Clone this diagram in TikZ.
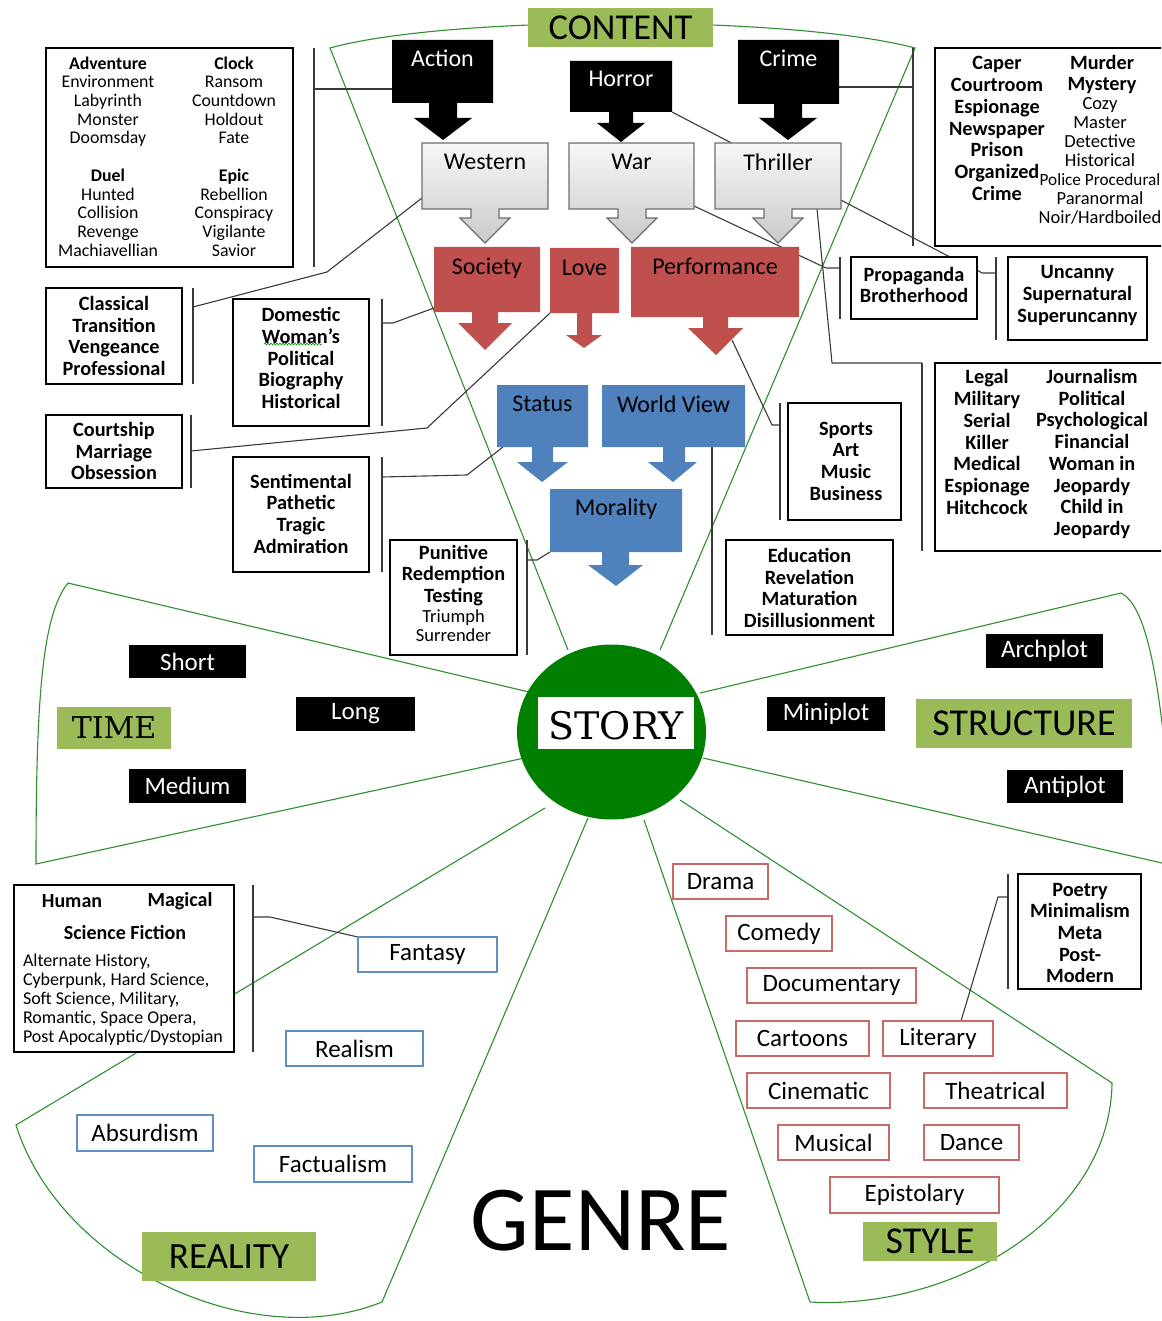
\documentclass[tikz,border=0pt]{standalone}
\usepackage{fontspec}
\setmainfont{Carlito}
\newfontfamily\serifface{DejaVu Serif}
\usetikzlibrary{shapes.geometric,decorations.pathmorphing}
\definecolor{labgreen}{HTML}{9BBB59}
\definecolor{accred}{HTML}{C0504D}
\definecolor{accblue}{HTML}{4F81BD}
\definecolor{storygreen}{HTML}{007F00}
\definecolor{sectorgreen}{HTML}{2F8F2F}
\definecolor{connc}{HTML}{3A3A3A}
\definecolor{grayedge}{HTML}{6E6E6E}
\newcommand\fsz[2]{\fontsize{#1}{#2}\selectfont}
\pgfdeclarelayer{bg}
\pgfsetlayers{bg,main}
\begin{document}
\begin{tikzpicture}[x=1pt,y=-1pt,
 every node/.style={inner sep=0pt,outer sep=0pt},
 boxref/.style={rectangle},
 sector/.style={draw=sectorgreen,line width=1.1pt},
 conn/.style={draw=connc,line width=1.1pt},
 brk/.style={draw=connc,line width=1.3pt},
 infobox/.style={rectangle,draw=black,line width=1.2pt,fill=white},
 infotext/.style={align=center,font=\bfseries\fsz{20.3}{21.7}},
 plaintext/.style={align=center,font=\fsz{18.5}{19.1}},
 headtext/.style={font=\fsz{24}{28}},
 greenlab/.style={rectangle,fill=labgreen},
 blacklab/.style={rectangle,fill=black,text=white,font=\fsz{25}{28}},
 bluelab/.style={rectangle,draw=accblue!90,line width=1.2pt,fill=white,font=\fsz{25}{28}},
 redlab/.style={rectangle,draw=accred!85,line width=1.2pt,fill=white,font=\fsz{25}{28}},
 blackshape/.style={fill=black},
 grayshape/.style={top color=gray!6,bottom color=gray!42,draw=grayedge,line width=1.2pt},
 redshape/.style={fill=accred},
 blueshape/.style={fill=accblue}]
\useasboundingbox (0,0) rectangle (1161,1321);
\clip (0,0) rectangle (1161,1321);

% ---------- block arrows ----------
\path[blackshape] (392,40) -- (493,40) -- (493,103) -- (457,103) -- (457,118) -- (472,118) -- (443,140) -- (414,118) -- (429,118) -- (429,103) -- (392,103) -- cycle;
\node[boxref,minimum width=101pt,minimum height=63pt] (action) at (442.5,71.5) {};
\node[headtext,text=white] (actionT) at (442.5,58) {Action};

\path[blackshape] (570,61) -- (672,61) -- (672,112) -- (633,112) -- (633,123) -- (645,123) -- (621,142) -- (597,123) -- (609,123) -- (609,112) -- (570,112) -- cycle;
\node[boxref,minimum width=102pt,minimum height=51pt] (horror) at (621,86.5) {};
\node[headtext,text=white] (horrorT) at (621,79) {Horror};

\path[blackshape] (738,40) -- (839,40) -- (839,104) -- (802,104) -- (802,118) -- (817,118) -- (788,140) -- (759,118) -- (774,118) -- (774,104) -- (738,104) -- cycle;
\node[boxref,minimum width=101pt,minimum height=64pt] (crime) at (788.5,72) {};
\node[headtext,text=white] (crimeT) at (788.5,58) {Crime};

\path[grayshape] (422,143) -- (548,143) -- (548,209) -- (499,209) -- (499,218) -- (510,218) -- (485,243) -- (460,218) -- (471,218) -- (471,209) -- (422,209) -- cycle;
\node[boxref,minimum width=126pt,minimum height=66pt] (western) at (485,176) {};
\node[headtext] (westernT) at (485,162) {Western};

\path[grayshape] (569,143) -- (694,143) -- (694,209) -- (646,209) -- (646,218) -- (657,218) -- (632,243) -- (607,218) -- (618,218) -- (618,209) -- (569,209) -- cycle;
\node[boxref,minimum width=125pt,minimum height=66pt] (war) at (631.5,176) {};
\node[headtext] (warT) at (631.5,162) {War};

\path[grayshape] (715,143) -- (841,143) -- (841,209) -- (792,209) -- (792,218) -- (803,218) -- (778,243) -- (753,218) -- (764,218) -- (764,209) -- (715,209) -- cycle;
\node[boxref,minimum width=126pt,minimum height=66pt] (thriller) at (778,176) {};
\node[headtext] (thrillerT) at (778,162) {Thriller};

\path[redshape] (434,247) -- (540,247) -- (540,312) -- (498,312) -- (498,323) -- (512,323) -- (485,350) -- (458,323) -- (472,323) -- (472,312) -- (434,312) -- cycle;
\node[boxref,minimum width=106pt,minimum height=65pt] (society) at (487,279.5) {};
\node[headtext] (societyT) at (487,268) {Society};

\path[redshape] (550,248) -- (619,248) -- (619,313) -- (592,313) -- (592,335) -- (602,335) -- (584,348) -- (566,335) -- (577,335) -- (577,313) -- (550,313) -- cycle;
\node[boxref,minimum width=69pt,minimum height=65pt] (love) at (584.5,280.5) {};
\node[headtext] (loveT) at (584.5,268) {Love};

\path[redshape] (631,247) -- (799,247) -- (799,317) -- (728,317) -- (728,328) -- (743,328) -- (716,355) -- (688,328) -- (703,328) -- (703,317) -- (631,317) -- cycle;
\node[boxref,minimum width=168pt,minimum height=70pt] (performance) at (715,282) {};
\node[headtext] (performanceT) at (715,266) {Performance};

\path[blueshape] (497,385) -- (588,385) -- (588,447) -- (553,447) -- (553,462) -- (568,462) -- (542,482) -- (517,462) -- (532,462) -- (532,447) -- (497,447) -- cycle;
\node[boxref,minimum width=91pt,minimum height=62pt] (status) at (542.5,416) {};
\node[headtext] (statusT) at (542.5,404) {Status};

\path[blueshape] (602,385) -- (745,385) -- (745,447) -- (685,447) -- (685,462) -- (697,462) -- (673,482) -- (648,462) -- (663,462) -- (663,447) -- (602,447) -- cycle;
\node[boxref,minimum width=143pt,minimum height=62pt] (worldview) at (673.5,416) {};
\node[headtext] (worldviewT) at (673.5,404) {World View};

\path[blueshape] (550,489) -- (682,489) -- (682,552) -- (629,552) -- (629,565) -- (643,565) -- (616,586) -- (588,565) -- (602,565) -- (602,552) -- (550,552) -- cycle;
\node[boxref,minimum width=132pt,minimum height=63pt] (morality) at (616,520.5) {};
\node[headtext] (moralityT) at (616,509) {Morality};

\node[greenlab,minimum width=185pt,minimum height=39pt,font=\fsz{36.5}{40}] (content) at (620.5,27.5) {CONTENT};

% ---------- info boxes ----------
\node[infobox,minimum width=247pt,minimum height=219pt] (adv) at (169.5,157.5) {};
\node[align=center,font=\fsz{17.8}{18.7}] (advL) at (108,156.5) {\textbf{Adventure}\\Environment\\Labyrinth\\Monster\\Doomsday\\[18.7pt]\textbf{Duel}\\Hunted\\Collision\\Revenge\\Machiavellian};
\node[align=center,font=\fsz{17.8}{18.7}] (advR) at (234,156.5) {\textbf{Clock}\\Ransom\\Countdown\\Holdout\\Fate\\[18.7pt]\textbf{Epic}\\Rebellion\\Conspiracy\\Vigilante\\Savior};
\draw[brk] ([xshift=21pt]adv.north east) -- ([xshift=21pt]adv.south east);

\node[infobox,minimum width=240pt,minimum height=198pt] (caper) at (1055,147) {};
\node[infotext] (caperL) at (997,128.5) {Caper\\Courtroom\\Espionage\\Newspaper\\Prison\\Organized\\Crime};
\node[infotext] (caperR) at (1102,74.5) {Murder\\Mystery};
\node[plaintext] (caperR2) at (1100,161) {Cozy\\Master\\Detective\\Historical\\{\fsz{17.2}{19.1}Police Procedural}\\Paranormal\\Noir/Hardboiled};
\draw[brk] ([xshift=-22pt]caper.north west) -- ([xshift=-22pt]caper.south west);

\node[infobox,minimum width=126pt,minimum height=62pt] (prop) at (914,288) {};
\node[infotext] (propT) at (914,285) {Propaganda\\Brotherhood};
\draw[brk] ([xshift=-11pt]prop.north west) -- ([xshift=-11pt]prop.south west);

\node[infobox,minimum width=139pt,minimum height=83pt] (unc) at (1077.5,298.5) {};
\node[infotext] (uncT) at (1077.5,295.5) {Uncanny\\Supernatural\\Superuncanny};
\draw[brk] ([xshift=-12pt]unc.north west) -- ([xshift=-12pt]unc.south west);

\node[infobox,minimum width=240pt,minimum height=188pt] (legal) at (1055,457) {};
\node[infotext] (legalL) at (987,442) {Legal\\Military\\Serial\\Killer\\Medical\\Espionage\\Hitchcock};
\node[infotext] (legalR) at (1092,454) {Journalism\\Political\\Psychological\\Financial\\Woman in\\Jeopardy\\Child in\\Jeopardy};
\draw[brk] ([xshift=-13pt]legal.north west) -- ([xshift=-13pt]legal.south west);

\node[infobox,minimum width=113pt,minimum height=117pt] (sports) at (844.5,461.5) {};
\node[infotext] (sportsT) at (846,461) {Sports\\Art\\Music\\Business};
\draw[brk] ([xshift=-8pt]sports.north west) -- ([xshift=-8pt]sports.south west);

\node[infobox,minimum width=167pt,minimum height=95pt] (edu) at (809.5,587.5) {};
\node[infotext] (eduT) at (809.5,588) {Education\\Revelation\\Maturation\\Disillusionment};

\node[infobox,minimum width=136pt,minimum height=96pt] (classical) at (114,336) {};
\node[infotext] (classicalT) at (114,336) {Classical\\Transition\\Vengeance\\Professional};
\draw[brk] ([xshift=11pt]classical.north east) -- ([xshift=11pt]classical.south east);

\node[infobox,minimum width=136pt,minimum height=127pt] (domestic) at (301,362.5) {};
\node[infotext] (domesticT) at (301,358) {Domestic\\Woman's\\Political\\Biography\\Historical};
\draw[green!60!black,line width=0.6pt,decorate,decoration={snake,amplitude=1pt,segment length=3pt}] (264,344) -- (322,344);
\draw[brk] ([xshift=13pt]domestic.north east) -- ([xshift=13pt]domestic.south east);

\node[infobox,minimum width=136pt,minimum height=73pt] (courtship) at (114,451.5) {};
\node[infotext] (courtshipT) at (114,451) {Courtship\\Marriage\\Obsession};
\draw[brk] ([xshift=9pt]courtship.north east) -- ([xshift=9pt]courtship.south east);

\node[infobox,minimum width=136pt,minimum height=115pt] (sentimental) at (301,514.5) {};
\node[infotext] (sentimentalT) at (301,513.5) {Sentimental\\Pathetic\\Tragic\\Admiration};
\draw[brk] ([xshift=13pt]sentimental.north east) -- ([xshift=13pt]sentimental.south east);

\node[infobox,minimum width=127pt,minimum height=115pt] (punitive) at (453.5,597.5) {};
\node[infotext] (punitiveA) at (453.5,575.5) {Punitive\\Redemption\\Testing};
\node[plaintext] (punitiveB) at (453.5,625.5) {Triumph\\Surrender};
\draw[brk] ([xshift=10pt]punitive.north east) -- ([xshift=10pt]punitive.south east);

\node[infobox,minimum width=220pt,minimum height=167pt] (scifi) at (124,968.5) {};
\node[font=\bfseries\fsz{20}{22}] (sfHuman) at (72,901) {Human};
\node[font=\bfseries\fsz{20}{22}] (sfMagical) at (180,901) {Magical};
\node[font=\bfseries\fsz{20}{22}] (sfTitle) at (125,933) {Science Fiction};
\node[align=left,anchor=west,font=\fsz{18}{19}] (sfList) at (23,1000) {Alternate History,\\Cyberpunk, Hard Science,\\Soft Science, Military,\\Romantic, Space Opera,\\Post Apocalyptic/Dystopian};
\draw[brk] ([xshift=19pt]scifi.north east) -- ([xshift=19pt]scifi.south east);

\node[infobox,minimum width=123pt,minimum height=115pt] (poetry) at (1079.5,931.5) {};
\node[infotext] (poetryT) at (1080,933) {Poetry\\Minimalism\\Meta\\Post-\\Modern};
\draw[brk] ([xshift=-10pt]poetry.north west) -- ([xshift=-10pt]poetry.south west);

% ---------- hub ----------
\node[ellipse,fill=storygreen,minimum width=189pt,minimum height=175pt] (hub) at (611.5,732) {};
\node[rectangle,fill=white,minimum width=156pt,minimum height=52pt] (storylab) at (616,723) {};
\node[font=\serifface\fsz{38}{44}] (storyT) at (616,726) {STORY};

% ---------- labels ----------
\node[blacklab,minimum width=117pt,minimum height=33pt] (short) at (187.5,661.5) {Short};
\node[blacklab,minimum width=119pt,minimum height=34pt] (long) at (355.5,714) {Long};
\node[blacklab,minimum width=117pt,minimum height=34pt] (medium) at (187.5,786) {Medium};
\node[blacklab,minimum width=118pt,minimum height=34pt] (miniplot) at (826,714) {Miniplot};
\node[blacklab,minimum width=117pt,minimum height=34pt] (archplot) at (1044.5,651) {Archplot};
\node[blacklab,minimum width=116pt,minimum height=33pt] (antiplot) at (1065,786.5) {Antiplot};

\node[greenlab,minimum width=114pt,minimum height=42pt,font=\serifface\fsz{30}{36}] (time) at (114,728) {TIME};
\node[greenlab,minimum width=216pt,minimum height=49pt,font=\fsz{38}{42}] (structure) at (1024,723.5) {STRUCTURE};
\node[greenlab,minimum width=174pt,minimum height=49pt,font=\fsz{37}{40}] (reality) at (229,1256.5) {REALITY};
\node[greenlab,minimum width=134pt,minimum height=39pt,font=\fsz{38}{40}] (style) at (930,1241.5) {STYLE};

\node[bluelab,minimum width=139pt,minimum height=35pt] (fantasy) at (427.5,954.5) {Fantasy};
\node[bluelab,minimum width=137pt,minimum height=35pt] (realism) at (354.5,1048.5) {Realism};
\node[bluelab,minimum width=136pt,minimum height=36pt] (absurdism) at (145,1133) {Absurdism};
\node[bluelab,minimum width=158pt,minimum height=36pt] (factualism) at (333,1164) {Factualism};

\node[redlab,minimum width=95pt,minimum height=35pt] (drama) at (720.5,881.5) {Drama};
\node[redlab,minimum width=106pt,minimum height=35pt] (comedy) at (779,933.5) {Comedy};
\node[redlab,minimum width=169pt,minimum height=35pt] (documentary) at (831.5,985.5) {Documentary};
\node[redlab,minimum width=133pt,minimum height=35pt] (cartoons) at (802.5,1038.5) {Cartoons};
\node[redlab,minimum width=110pt,minimum height=35pt] (literary) at (938,1038.5) {Literary};
\node[redlab,minimum width=143pt,minimum height=35pt] (cinematic) at (818.5,1090.5) {Cinematic};
\node[redlab,minimum width=143pt,minimum height=35pt] (theatrical) at (995.5,1090.5) {Theatrical};
\node[redlab,minimum width=111pt,minimum height=35pt] (musical) at (833.5,1142.5) {Musical};
\node[redlab,minimum width=95pt,minimum height=35pt] (dance) at (971.5,1142.5) {Dance};
\node[redlab,minimum width=169pt,minimum height=36pt] (epistolary) at (914.5,1195) {Epistolary};

\node[font=\fsz{93}{100}] (genre) at (601,1221) {GENRE};

% ---------- background: sectors and connectors ----------
\begin{pgfonlayer}{bg}
\fill[white] (0,0) rectangle (1161,1321);
\draw[sector] (568,650) -- (330,48) .. controls (450,15) and (790,15) .. (915,48) -- (660,650);
\draw[sector] (529,692) -- (68,583) .. controls (42,615) and (36,700) .. (36,864) -- (529,757);
\draw[sector] (700,693) -- (1121,593) .. controls (1145,605) and (1158,670) .. (1168,780);
\draw[sector] (703,758) -- (1175,866);
\draw[sector] (545,808) -- (16,1125) .. controls (60,1265) and (250,1355) .. (382,1302) -- (588,818);
\draw[sector] (644,820) -- (810,1302) .. controls (950,1310) and (1110,1220) .. (1112,1083) -- (680,800);

\coordinate (brAdv) at (314,89);
\coordinate (brCaper) at (913,87);
\coordinate (brProp) at (840,268);
\coordinate (brLegal) at (922,363);
\coordinate (brSports) at (780,425);
\coordinate (brClass) at (193,307);
\coordinate (brDom) at (382,323);
\coordinate (brCourt) at (191,451);
\coordinate (brSent) at (382,477);
\coordinate (brPun) at (527,560);
\coordinate (brSci) at (253,917);
\coordinate (brPoetry) at (1008,897);
\coordinate (brUnc) at (996,273);
\coordinate (wvEdu) at (712,635);

\draw[conn] ([yshift=-17.5pt]action.west) -- (brAdv);
\draw[conn] ([yshift=-15pt]crime.east) -- (brCaper);
\draw[conn] (horror.south east) -- ([xshift=36pt]prop.north);
\draw[conn] ([yshift=3pt]war.south east) -- (826,268) -- (brProp);
\draw[conn] ([xshift=39pt]thriller.south) -- (832,363) -- (brLegal);
\draw[conn] ([xshift=17pt,yshift=-23pt]performance.south) -- (772,425) -- (brSports);
\draw[brk] ([xshift=38.5pt]worldview.south) -- (wvEdu);
\draw[conn] ([yshift=-22pt]western.west) -- (327,272) -- (brClass);
\draw[conn] ([yshift=-28.5pt]society.west) -- (393,323) -- (brDom);
\draw[conn] (love.south west) -- (427,428) -- (brCourt);
\draw[conn] ([xshift=6pt]status.south west) -- (467,475) -- (brSent);
\draw[conn] (morality.south west) -- (537,560) -- (brPun);
\draw[conn] (fantasy.north west) -- (270,917) -- (brSci);
\draw[conn] ([xshift=23pt]literary.north) -- (998,897) -- (brPoetry);
\draw[conn] ([yshift=18pt]prop.east) -- (982,273) -- (brUnc);
\end{pgfonlayer}
\end{tikzpicture}
\end{document}
